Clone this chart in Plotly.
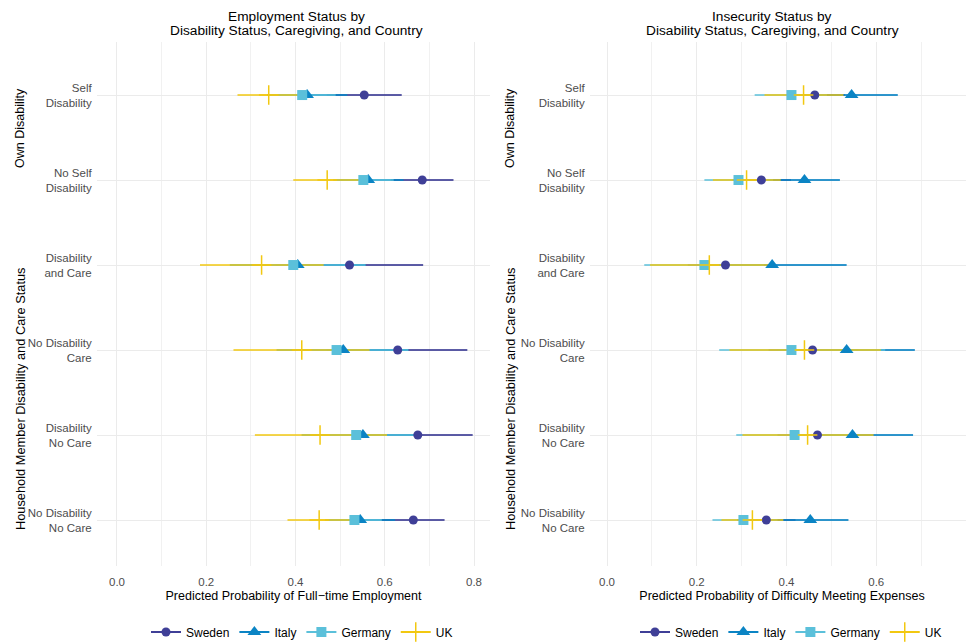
import plotly.graph_objects as go

# ---------------- data ----------------
categories = ["Self<br>Disability", "No Self<br>Disability", "Disability<br>and Care",
              "No Disability<br>Care", "Disability<br>No Care", "No Disability<br>No Care"]
countries = ["Sweden", "Italy", "Germany", "UK"]

# Employment (predicted probability of full-time employment)
emp_sweden_est = [0.554, 0.684, 0.521, 0.629, 0.674, 0.664]
emp_sweden_lo = [0.470, 0.614, 0.356, 0.470, 0.550, 0.594]
emp_sweden_hi = [0.638, 0.754, 0.686, 0.785, 0.797, 0.734]
emp_italy_est = [0.426, 0.563, 0.405, 0.507, 0.551, 0.545]
emp_italy_lo = [0.336, 0.485, 0.253, 0.358, 0.414, 0.466]
emp_italy_hi = [0.516, 0.642, 0.557, 0.653, 0.670, 0.623]
emp_germany_est = [0.415, 0.552, 0.395, 0.492, 0.536, 0.532]
emp_germany_lo = [0.340, 0.485, 0.253, 0.358, 0.414, 0.466]
emp_germany_hi = [0.490, 0.620, 0.557, 0.653, 0.670, 0.593]
emp_uk_est = [0.340, 0.471, 0.324, 0.414, 0.455, 0.453]
emp_uk_lo = [0.270, 0.395, 0.186, 0.261, 0.309, 0.382]
emp_uk_hi = [0.415, 0.545, 0.463, 0.566, 0.605, 0.524]

# Insecurity (predicted probability of difficulty meeting expenses)
ins_sweden_est = [0.463, 0.344, 0.264, 0.458, 0.469, 0.355]
ins_sweden_lo = [0.400, 0.280, 0.180, 0.360, 0.380, 0.290]
ins_sweden_hi = [0.530, 0.410, 0.350, 0.560, 0.560, 0.420]
ins_italy_est = [0.545, 0.440, 0.368, 0.534, 0.547, 0.453]
ins_italy_lo = [0.440, 0.360, 0.200, 0.380, 0.410, 0.370]
ins_italy_hi = [0.648, 0.519, 0.534, 0.686, 0.682, 0.538]
ins_germany_est = [0.411, 0.293, 0.217, 0.411, 0.418, 0.304]
ins_germany_lo = [0.329, 0.217, 0.083, 0.250, 0.288, 0.235]
ins_germany_hi = [0.490, 0.370, 0.350, 0.620, 0.550, 0.380]
ins_uk_est = [0.438, 0.311, 0.228, 0.440, 0.447, 0.324]
ins_uk_lo = [0.351, 0.236, 0.096, 0.273, 0.302, 0.255]
ins_uk_hi = [0.527, 0.387, 0.360, 0.610, 0.594, 0.393]

x_ticks = [0.0, 0.2, 0.4, 0.6, 0.8]
x_ticklabels = ["0.0", "0.2", "0.4", "0.6", "0.8"]

# ---------------- styling ----------------
colors = {"Sweden": "#3F3F97", "Italy": "#0B84C4", "Germany": "#5BC0DA", "UK": "#F2C811"}
line_colors = {"Sweden": "rgba(63,63,151,0.85)", "Italy": "rgba(11,132,196,0.85)",
               "Germany": "rgba(91,192,218,0.75)", "UK": "rgba(242,200,17,0.75)"}
symbols = {"Sweden": "circle", "Italy": "triangle-up", "Germany": "square", "UK": "cross-thin"}
sizes = {"Sweden": 9, "Italy": 12, "Germany": 10, "UK": 14}
FONT = "Liberation Sans, Arial, sans-serif"

panels = [
    ("x", "y", "legend", {
        "Sweden": (emp_sweden_est, emp_sweden_lo, emp_sweden_hi),
        "Italy": (emp_italy_est, emp_italy_lo, emp_italy_hi),
        "Germany": (emp_germany_est, emp_germany_lo, emp_germany_hi),
        "UK": (emp_uk_est, emp_uk_lo, emp_uk_hi)}),
    ("x2", "y2", "legend2", {
        "Sweden": (ins_sweden_est, ins_sweden_lo, ins_sweden_hi),
        "Italy": (ins_italy_est, ins_italy_lo, ins_italy_hi),
        "Germany": (ins_germany_est, ins_germany_lo, ins_germany_hi),
        "UK": (ins_uk_est, ins_uk_lo, ins_uk_hi)}),
]

ypos = list(range(1, len(categories) + 1))

fig = go.Figure()
for xa, ya, lg, data in panels:
    # interval lines
    for c in countries:
        est, lo, hi = data[c]
        xs, ys = [], []
        for yv, l, h in zip(ypos, lo, hi):
            xs += [l, h, None]
            ys += [yv, yv, None]
        fig.add_trace(go.Scatter(x=xs, y=ys, mode="lines", xaxis=xa, yaxis=ya,
                                 line=dict(color=line_colors[c], width=2),
                                 showlegend=False, hoverinfo="skip"))
    # point estimates
    for c in countries:
        est, lo, hi = data[c]
        mk = dict(symbol=symbols[c], size=sizes[c], color=colors[c])
        if c == "UK":
            mk["line"] = dict(color=colors[c], width=1.5)
        fig.add_trace(go.Scatter(x=est, y=ypos, mode="markers", xaxis=xa, yaxis=ya,
                                 marker=mk, showlegend=False, name=c))
    # legend entries
    for c in countries:
        mk = dict(symbol=symbols[c], size=sizes[c], color=colors[c])
        if c == "UK":
            mk["line"] = dict(color=colors[c], width=1.5)
        fig.add_trace(go.Scatter(x=[None], y=[None], mode="lines+markers", xaxis=xa, yaxis=ya,
                                 marker=mk, line=dict(color=colors[c], width=2),
                                 name=c, legend=lg, showlegend=True))

# The page body has an 8px margin, so figure coordinates = page coordinates - 8.
OFF = 8
W, H = 966, 644
T = 42 - OFF
BOT = 566 - OFF
B = H - BOT
PH = H - T - B
L_DOM = [(97 - OFF) / W, (490 - OFF) / W]
R_DOM = [(590 - OFF) / W, 1.0]


def py(page_y):
    """page pixel y -> paper y"""
    return 1 - (page_y - OFF - T) / PH


xcommon = dict(tickvals=x_ticks, ticktext=x_ticklabels, showgrid=True, gridcolor="#EBEBEB",
               gridwidth=1, zeroline=False, showline=False, ticks="outside", ticklen=5,
               tickcolor="rgba(0,0,0,0)", automargin=False,
               tickfont=dict(size=11.5, color="#4D4D4D", family=FONT),
               minor=dict(dtick=0.1, tick0=0, showgrid=True, gridcolor="#F1F1F1", gridwidth=1))
ycommon = dict(tickvals=ypos, ticktext=categories, range=[6.541, 0.376], showgrid=True,
               gridcolor="#EBEBEB", gridwidth=1, zeroline=False, showline=False,
               ticks="outside", ticklen=2, tickcolor="rgba(0,0,0,0)",
               automargin=False, tickfont=dict(size=11.5, color="#4D4D4D", family=FONT))

fig.update_layout(
    width=W, height=H,
    margin=dict(l=0, r=0, t=T, b=B),
    paper_bgcolor="white", plot_bgcolor="white",
    font=dict(family=FONT, color="black"),
    xaxis=dict(domain=L_DOM, range=[-0.0448, 0.8358], anchor="y",
               title=dict(text="Predicted Probability of Full\u2212time Employment",
                          font=dict(size=12.5), standoff=4), **xcommon),
    xaxis2=dict(domain=R_DOM, range=[-0.0379, 0.8178], anchor="y2",
                title=dict(text="Predicted Probability of Difficulty Meeting Expenses",
                           font=dict(size=12.5), standoff=4), **xcommon),
    yaxis=dict(domain=[0, 1], anchor="x", **ycommon),
    yaxis2=dict(domain=[0, 1], anchor="x2", **ycommon),
    legend=dict(orientation="h", x=(302 - OFF) / W, xanchor="center",
                y=py(632), yanchor="middle",
                font=dict(size=12, family=FONT), itemwidth=30, bgcolor="rgba(0,0,0,0)"),
    legend2=dict(orientation="h", x=(791 - OFF) / W, xanchor="center",
                 y=py(632), yanchor="middle",
                 font=dict(size=12, family=FONT), itemwidth=30, bgcolor="rgba(0,0,0,0)"),
)

annotations = []
titles = [("Employment Status by", "Disability Status, Caregiving, and Country", 296),
          ("Insecurity Status by", "Disability Status, Caregiving, and Country", 772)]
for line1, line2, cx in titles:
    annotations.append(dict(text=line1, x=(cx - OFF) / W, xref="paper",
                            y=1 + T / PH, yref="paper", borderpad=0,
                            xanchor="center", yanchor="top", showarrow=False,
                            font=dict(size=13.7, color="black", family=FONT)))
    annotations.append(dict(text=line2, x=(cx - OFF) / W, xref="paper",
                            y=py(31), yref="paper", borderpad=0,
                            xanchor="center", yanchor="middle", showarrow=False,
                            font=dict(size=13.7, color="black", family=FONT)))
for sx in (20, 510):
    annotations.append(dict(text="Own Disability", x=(sx - OFF) / W, xref="paper",
                            y=py(128), yref="paper", textangle=-90,
                            xanchor="center", yanchor="middle",
                            showarrow=False, font=dict(size=12.5, color="black", family=FONT)))
    annotations.append(dict(text="Household Member Disability and Care Status",
                            x=(sx - OFF) / W, xref="paper", y=py(399),
                            yref="paper", textangle=-90, xanchor="center", yanchor="middle",
                            showarrow=False, font=dict(size=12.8, color="black", family=FONT)))
fig.update_layout(annotations=annotations)

fig.write_html("out.html")
